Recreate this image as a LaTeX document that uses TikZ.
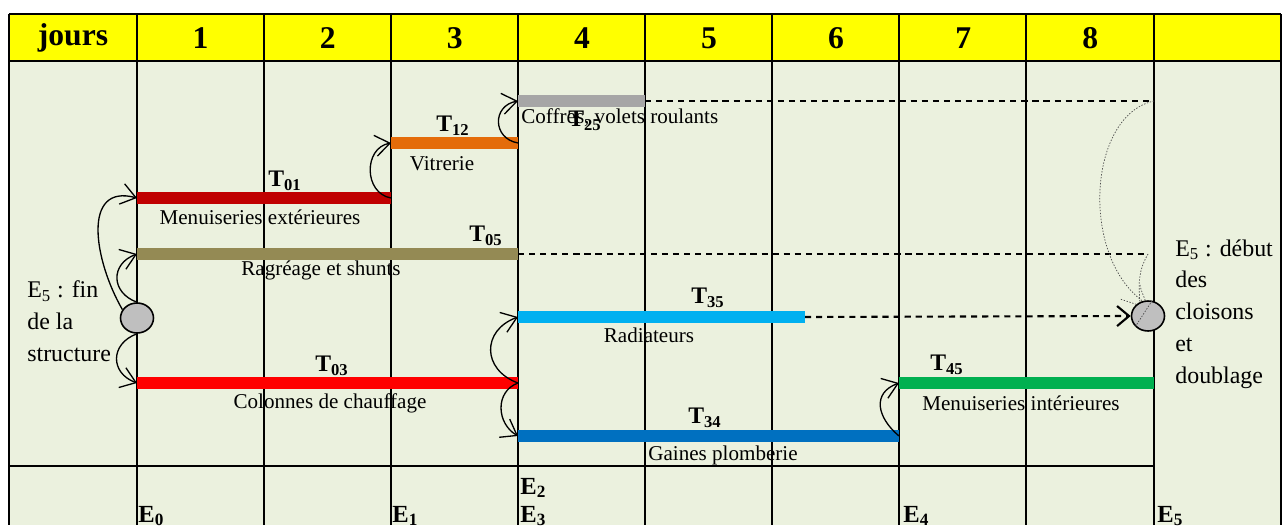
\documentclass[tikz,border=0pt]{standalone}
\usepackage{fontspec}
\setmainfont{Liberation Serif}
\usetikzlibrary{shapes.geometric,arrows.meta}

\definecolor{fond}{HTML}{EBF1DE}
\definecolor{entete}{HTML}{FFFF00}
\definecolor{c01}{HTML}{C00000}
\definecolor{c12}{HTML}{E46C0A}
\definecolor{c25}{HTML}{A6A6A6}
\definecolor{c05}{HTML}{948A54}
\definecolor{c35}{HTML}{00B0F0}
\definecolor{c03}{HTML}{FF0000}
\definecolor{c34}{HTML}{0070C0}
\definecolor{c45}{HTML}{00B050}

\begin{document}
\begin{tikzpicture}[
      x=0.02cm, y=0.02cm,
      grid/.style={line width=1.1pt},
      bar/.style={line width=6.8pt},
      head/.style={font=\fontsize{18}{20}\selectfont\bfseries},
      tache/.style={font=\fontsize{13.5}{15}\selectfont\bfseries, inner sep=0pt},
      libelle/.style={font=\fontsize{12}{14}\selectfont, inner sep=0pt},
      etape/.style={font=\fontsize{14}{16}\selectfont\bfseries, inner sep=0pt, anchor=base west},
      note/.style={font=\fontsize{13.6}{18.1}\selectfont, align=left, inner sep=0pt, anchor=west},
      event/.style={ellipse, draw, line width=0.9pt, fill=gray!50, minimum width=0.66cm, minimum height=0.6cm, inner sep=0pt},
      lien/.style={draw, line width=0.75pt, -{Straight Barb[length=2.9mm, width=4.2mm]}},
      attente/.style={draw, line width=1.2pt, dash pattern=on 3.5pt off 2.8pt},
      pointille/.style={draw, gray!60!black, line width=0.4pt, dash pattern=on 0.8pt off 0.9pt}
    ]
    \useasboundingbox (0,0) rectangle (1284,525);
    % Table
    \fill[fond] (9,0) rectangle (1281,464);
    \fill[entete] (9,464) rectangle (1281,511);
    \foreach \x in {9,137,264,391,518,645,772,899,1026,1154,1281}
      \draw[grid] (\x,511) -- (\x,0);
    \draw[grid] (9,511) -- (1281,511);
    \draw[grid] (9,464) -- (1281,464);
    \draw[grid] (9,59) -- (1154,59);
    \node[head] (jours) at (73,487) {jours};
    \foreach \j in {1,...,8}
      \node[head] (h\j) at ({73.5+127.1*\j},487) {\j};

    % Tasks
    \coordinate (s01) at (137,327); \coordinate (e01) at (391,327);
    \coordinate (s12) at (391,382); \coordinate (e12) at (518,382);
    \coordinate (s25) at (518,424); \coordinate (e25) at (645,424);
    \coordinate (s05) at (137,271); \coordinate (e05) at (518,271);
    \coordinate (s35) at (518,208); \coordinate (e35) at (805,208);
    \coordinate (s03) at (137,142); \coordinate (e03) at (518,142);
    \coordinate (s34) at (518,89);  \coordinate (e34) at (899,89);
    \coordinate (s45) at (899,142); \coordinate (e45) at (1154,142);
    \coordinate (f25) at (1154,424);
    \coordinate (f05) at (1148,271);

    \draw[bar, c01] (s01) -- (e01);
    \draw[bar, c12] (s12) -- (e12);
    \draw[bar, c25] (s25) -- (e25);
    \draw[bar, c05] (s05) -- (e05);
    \draw[bar, c35] (s35) -- (e35);
    \draw[bar, c03] (s03) -- (e03);
    \draw[bar, c34] (s34) -- (e34);
    \draw[bar, c45] (s45) -- (e45);

    % Events
    \node[event] (E0) at (137,207) {};
    \node[event] (E5) at (1148,209) {};

    % Free float
    \path[attente] (e25) -- (f25);
    \path[attente] (e05) -- (f05);
    \path[attente, -{Straight Barb[length=2.4mm, width=4mm]}] (e35) -- (E5.west);
    \path[pointille] (f25) .. controls (1088,410) and (1080,270) .. (E5.110);
    \path[pointille] (f05) to[out=240, in=95] (E5.120);
    \path[pointille] (E5.135) -- (1120,226);
    \path[pointille] (E5.100) to[out=110, in=280] (1140,240);
    \path[pointille] (E5.75) -- (E5.220);

    % Links
    \path[lien] (E0.150) to[out=120, in=165, looseness=1.3] (s01);
    \path[lien] (e01) to[out=170, in=190, looseness=1.3] (s12);
    \path[lien] (e12) to[out=170, in=190, looseness=1.6] (s25);
    \path[lien] (E0.north) to[out=160, in=200, looseness=1.5] (s05);
    \path[lien] (E0.south) to[out=200, in=160, looseness=1.5] (s03);
    \path[lien] (e03) to[out=160, in=200, looseness=1.5] (s35);
    \path[lien] (e03) to[out=200, in=150, looseness=1.2] (s34);
    \path[lien] (e34) to[out=140, in=200, looseness=1.4] (s45);

    % Labels
    \node[tache] (t01) at (285,344) {T\textsubscript{01}};
    \node[libelle] (l01) at (260,308) {Menuiseries extérieures};
    \node[tache] (t12) at (453,399) {T\textsubscript{12}};
    \node[libelle] (l12) at (442,361) {Vitrerie};
    \node[libelle, anchor=west] (l25) at (521,407) {Coffres, volets roulants};
    \node[tache] (t25) at (585,404) {T\textsubscript{25}};
    \node[tache] (t05) at (486,289) {T\textsubscript{05}};
    \node[libelle] (l05) at (321,255) {Ragréage et shunts};
    \node[tache] (t35) at (708,227) {T\textsubscript{35}};
    \node[libelle] (l35) at (649,190) {Radiateurs};
    \node[tache] (t03) at (332,159) {T\textsubscript{03}};
    \node[libelle] (l03) at (330,122) {Colonnes de chauffage};
    \node[tache] (t34) at (705,107) {T\textsubscript{34}};
    \node[libelle] (l34) at (723,70) {Gaines plomberie};
    \node[tache] (t45) at (947,160) {T\textsubscript{45}};
    \node[libelle] (l45) at (1021,122) {Menuiseries intérieures};

    \node[note] (fin) at (27,203.5) {E\textsubscript{5} : fin\\de la\\structure};
    \node[note] (debut) at (1175,211) {E\textsubscript{5} : début\\des\\cloisons\\et\\doublage};

    \node[etape] (n0) at (138,3) {E\textsubscript{0}};
    \node[etape] (n1) at (392,3) {E\textsubscript{1}};
    \node[etape] (n2) at (520,31) {E\textsubscript{2}};
    \node[etape] (n3) at (520,3) {E\textsubscript{3}};
    \node[etape] (n4) at (903,3) {E\textsubscript{4}};
    \node[etape] (n5) at (1157,3) {E\textsubscript{5}};
  \end{tikzpicture}
\end{document}
